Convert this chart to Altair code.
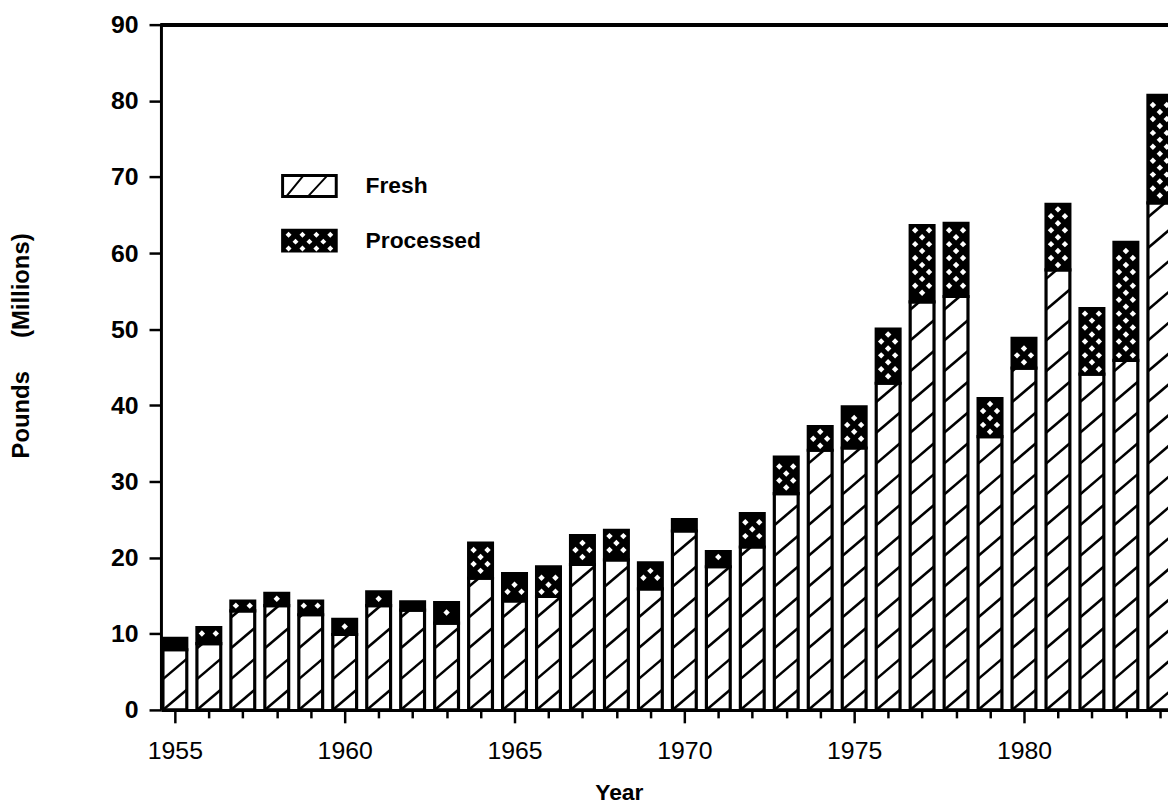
import math
import altair as alt
import pandas as pd

# ---------------- data ----------------
years = list(range(1955, 1985))
fresh = [7.9, 8.7, 13.0, 13.7, 12.5, 9.9, 13.7, 13.1, 11.4, 17.3,
         14.3, 14.9, 19.1, 19.7, 15.9, 23.5, 18.8, 21.4, 28.4, 34.1,
         34.4, 42.9, 53.6, 54.3, 35.9, 44.9, 57.8, 44.1, 45.9, 66.6]
processed = [1.5, 2.1, 1.3, 1.6, 1.8, 2.0, 1.8, 1.1, 2.7, 4.6,
             3.6, 3.9, 3.8, 3.9, 3.4, 1.5, 2.0, 4.4, 4.8, 3.1,
             5.4, 7.1, 10.0, 9.6, 5.0, 3.9, 8.6, 8.6, 15.5, 14.1]
series = ["Fresh", "Processed"]
y_ticks = list(range(0, 91, 10))

# ---------------- layout ----------------
TOP = 14
W, H = 1014, 704 - TOP
XMIN, XMAX = 1954.59, 1984.24
YMAX = 90
PX_YEAR = W / (XMAX - XMIN)
PX_UNIT = H / YMAX
BAR_W = 24
FONT = "Liberation Sans"

bars = pd.DataFrame({
    "Year": years,
    "Fresh": fresh,
    "Total": [round(f + p, 2) for f, p in zip(fresh, processed)],
})

# hatch lines for the "Fresh" segments (pattern built from the bar values)
HW, SLOPE, SP = BAR_W / 2, 0.85, 31.0
segs = []
for yr, f in zip(years, fresh):
    top = f * PX_UNIT
    n = -1
    while True:
        k = HW * SLOPE + n * SP
        if k - HW * SLOPE > top:
            break
        xlo = max(-HW, (0 - k) / SLOPE)
        xhi = min(HW, (top - k) / SLOPE)
        if xhi > xlo:
            segs.append({"x": yr + xlo / PX_YEAR, "y": (SLOPE * xlo + k) / PX_UNIT,
                         "x2": yr + xhi / PX_YEAR, "y2": (SLOPE * xhi + k) / PX_UNIT})
        n += 1
hatch = pd.DataFrame(segs)

# white diamond lattice for the "Processed" segments
ROW = 7.0
dots = []
for yr, f, p in zip(years, fresh, processed):
    lo = f * PX_UNIT + 4.5
    hi = (f + p) * PX_UNIT - 4.5
    j = math.ceil(lo / ROW)
    while j * ROW <= hi:
        xs = [0.0] if j % 2 == 0 else [-7.0, 7.0]
        for X in xs:
            dots.append({"x": yr + X / PX_YEAR, "y": j * ROW / PX_UNIT})
        j += 1
dotdf = pd.DataFrame(dots)

# ---------------- legend swatch shapes (normalised -1..1 paths) ----------------
def rect(x0, y0, x1, y1, cw=True):
    if cw:
        return f"M{x0:.3f},{y0:.3f}L{x1:.3f},{y0:.3f}L{x1:.3f},{y1:.3f}L{x0:.3f},{y1:.3f}Z"
    return f"M{x0:.3f},{y0:.3f}L{x0:.3f},{y1:.3f}L{x1:.3f},{y1:.3f}L{x1:.3f},{y0:.3f}Z"

R = 28.5  # half width of swatch in px
hh = 12 / R
t = 3 / R
fresh_path = rect(-1, -hh, 1, hh) + rect(-1 + t, -hh + t, 1 - t, hh - t, cw=False)
for xb, xt in [(-0.82, -0.30), (-0.05, 0.54)]:
    w = 2.6 / R
    yb, yt = hh - t, -hh + t
    fresh_path += f"M{xb:.3f},{yb:.3f}L{xt:.3f},{yt:.3f}L{xt + w:.3f},{yt:.3f}L{xb + w:.3f},{yb:.3f}Z"
proc_path = rect(-1, -hh, 1, hh)
dr = 3.0 / R
for cy_px, xs_px in [(-6, [-21, -7, 7, 21]), (1, [-14, 0, 14]), (8, [-21, -7, 7, 21])]:
    for cx_px in xs_px:
        cx, cy = cx_px / R, cy_px / R
        proc_path += (f"M{cx:.3f},{cy - dr:.3f}L{cx - dr:.3f},{cy:.3f}"
                      f"L{cx:.3f},{cy + dr:.3f}L{cx + dr:.3f},{cy:.3f}Z")

# ---------------- scales / axes ----------------
xscale = alt.Scale(domain=[XMIN, XMAX], nice=False, zero=False, padding=0)
yscale = alt.Scale(domain=[0, YMAX], nice=False, padding=0)

x_axis = alt.Axis(
    values=years, format="d",
    labelExpr="datum.value % 5 === 0 ? datum.label : ''",
    tickSize={"condition": {"test": "datum.value % 5 === 0", "value": 13}, "value": 8},
    tickWidth=2.5, tickColor="black", domainWidth=3, domainColor="black",
    labelFont=FONT, labelFontSize=25, labelColor="black", labelPadding=16,
    labelFlush=False, labelOverlap=False, grid=False,
    title="Year", titleFont=FONT, titleFontSize=23, titleFontWeight="bold",
    titleColor="black", titleX=461, titleY=90, titleBaseline="alphabetic",
    titleAnchor="middle", titleAlign="center",
)
y_axis = alt.Axis(
    values=y_ticks, tickSize=12, tickWidth=2.5, tickColor="black",
    domainWidth=3, domainColor="black",
    labelFont=FONT, labelFontSize=25, labelFontWeight="bold", labelColor="black",
    labelPadding=11, grid=False,
    title="Pounds\u00a0\u00a0\u00a0\u00a0\u00a0(Millions)", titleFont=FONT, titleFontSize=24,
    titleFontWeight="bold", titleColor="black", titleAngle=270,
    titleX=-140, titleY=345 - 8 - TOP, titleAlign="center", titleBaseline="middle",
)

fresh_bars = alt.Chart(bars).mark_bar(
    width=BAR_W, fill="white", stroke="black", strokeWidth=3.2, clip=True
).encode(
    x=alt.X("Year:Q", scale=xscale, axis=x_axis),
    y=alt.Y("Fresh:Q", scale=yscale, axis=y_axis),
)

hatch_rules = alt.Chart(hatch).mark_rule(
    color="black", strokeWidth=2.6, clip=True
).encode(
    x=alt.X("x:Q", scale=xscale, axis=x_axis), x2="x2:Q",
    y=alt.Y("y:Q", scale=yscale, axis=y_axis), y2="y2:Q",
)

proc_bars = alt.Chart(bars).mark_bar(
    width=BAR_W, fill="black", stroke="black", strokeWidth=3.2, clip=True
).encode(
    x=alt.X("Year:Q", scale=xscale, axis=x_axis),
    y=alt.Y("Total:Q", scale=yscale, axis=y_axis),
    y2="Fresh:Q",
)

proc_dots = alt.Chart(dotdf).mark_point(
    shape="diamond", filled=True, color="white", size=42, opacity=1, strokeWidth=0, clip=True
).encode(
    x=alt.X("x:Q", scale=xscale, axis=x_axis),
    y=alt.Y("y:Q", scale=yscale, axis=y_axis),
)

top_frame = alt.Chart(bars).mark_rule(color="black", strokeWidth=3).encode(
    y=alt.datum(YMAX, scale=yscale, axis=y_axis)
)

legend_layer = alt.Chart(pd.DataFrame({"Type": series})).transform_filter("false").mark_point(
    filled=True, color="black", opacity=1
).encode(
    shape=alt.Shape(
        "Type:N",
        scale=alt.Scale(domain=series, range=[fresh_path, proc_path]),
        legend=alt.Legend(
            title=None, orient="none", legendX=121, legendY=138 - (TOP - 10),
            symbolSize=57 * 57, symbolFillColor="black", symbolStrokeWidth=0,
            symbolOpacity=1, labelFont=FONT, labelFontSize=23, labelFontWeight="bold",
            labelColor="black", labelOffset=28, rowPadding=14, padding=0,
        ),
    )
)

chart = alt.layer(
    fresh_bars, hatch_rules, proc_bars, proc_dots, top_frame, legend_layer
).properties(
    width=W, height=H,
    autosize=alt.AutoSizeParams(type="none"),
    padding={"left": 154, "top": TOP, "right": 0, "bottom": 95},
    background="white",
).configure_view(stroke=None)

chart.save("out.html", embed_options={"renderer": "svg", "actions": False})
